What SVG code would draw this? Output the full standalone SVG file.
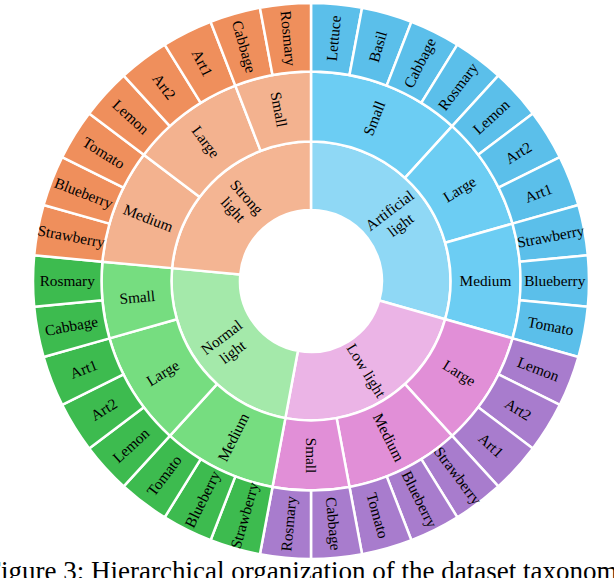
<svg xmlns="http://www.w3.org/2000/svg" width="614" height="578" viewBox="0 0 614 578">
<style>
.seg{stroke:#ffffff;stroke-width:2.5;stroke-linejoin:round}
.lbl{font-family:"Liberation Serif","Times New Roman",serif;font-size:15.3px;fill:#000000;text-anchor:middle}
.cap{font-family:"Liberation Serif","Times New Roman",serif;font-size:27px;fill:#000000}
.a1{fill:#8fd8f5}.a2{fill:#6ccdf3}.a3{fill:#5bbfea}
.l1{fill:#ebb4e6}.l2{fill:#e18fd7}.l3{fill:#a87ccd}
.n1{fill:#a4e9aa}.n2{fill:#76dd80}.n3{fill:#3dbb4f}
.s1{fill:#f4b593}.s2{fill:#f3b28f}.s3{fill:#ef8f5c}
</style>
<defs>
<path id="w1" d="M-25.650,-276.814 A278,278 0 0 1 25.650,-276.814 L19.330,-208.606 A209.5,209.5 0 0 0 -19.330,-208.606 Z"/>
<path id="w2" d="M-38.495,-205.933 A209.5,209.5 0 0 1 38.495,-205.933 L25.633,-137.125 A139.5,139.5 0 0 0 -25.633,-137.125 Z"/>
<path id="w3" d="M-57.332,-201.503 A209.5,209.5 0 0 1 57.332,-201.503 L38.176,-134.175 A139.5,139.5 0 0 0 -38.176,-134.175 Z"/>
<path id="w4" d="M-75.680,-195.353 A209.5,209.5 0 0 1 75.680,-195.353 L50.393,-130.080 A139.5,139.5 0 0 0 -50.393,-130.080 Z"/>
<path id="w8" d="M-93.981,-103.092 A139.5,139.5 0 0 1 93.981,-103.092 L47.832,-52.470 A71,71 0 0 0 -47.832,-52.470 Z"/>
<path id="w10" d="M-111.323,-84.068 A139.5,139.5 0 0 1 111.323,-84.068 L56.659,-42.787 A71,71 0 0 0 -56.659,-42.787 Z"/>
</defs>

<g id="ring-inner">
<g id="artificial-light" transform="translate(311,281) rotate(52.941)"><use href="#w10" class="seg a1"/><text class="lbl" transform="translate(0,-105.25) rotate(-90)"><tspan x="0" dy="-0.25em">Artificial</tspan><tspan x="0" dy="1.2em">light</tspan></text></g>
<g id="low-light" transform="translate(311,281) rotate(148.235)"><use href="#w8" class="seg l1"/><text class="lbl" transform="translate(0,-105.25) rotate(-90)" dy="0.35em">Low light</text></g>
<g id="normal-light" transform="translate(311,281) rotate(232.941)"><use href="#w8" class="seg n1"/><text class="lbl" transform="translate(0,-105.25) rotate(90)"><tspan x="0" dy="-0.25em">Normal</tspan><tspan x="0" dy="1.2em">light</tspan></text></g>
<g id="strong-light" transform="translate(311,281) rotate(317.647)"><use href="#w8" class="seg s1"/><text class="lbl" transform="translate(0,-105.25) rotate(90)"><tspan x="0" dy="-0.25em">Strong</tspan><tspan x="0" dy="1.2em">light</tspan></text></g>
</g>

<g id="ring-middle">
<g id="art-small" transform="translate(311,281) rotate(21.176)"><use href="#w4" class="seg a2"/><text class="lbl" transform="translate(0,-174.5) rotate(-90)" dy="0.35em">Small</text></g>
<g id="art-large" transform="translate(311,281) rotate(58.235)"><use href="#w3" class="seg a2"/><text class="lbl" transform="translate(0,-174.5) rotate(-90)" dy="0.35em">Large</text></g>
<g id="art-medium" transform="translate(311,281) rotate(90)"><use href="#w3" class="seg a2"/><text class="lbl" transform="translate(0,-174.5) rotate(-90)" dy="0.35em">Medium</text></g>
<g id="low-large" transform="translate(311,281) rotate(121.765)"><use href="#w3" class="seg l2"/><text class="lbl" transform="translate(0,-174.5) rotate(-90)" dy="0.35em">Large</text></g>
<g id="low-medium" transform="translate(311,281) rotate(153.529)"><use href="#w3" class="seg l2"/><text class="lbl" transform="translate(0,-174.5) rotate(-90)" dy="0.35em">Medium</text></g>
<g id="low-small" transform="translate(311,281) rotate(180)"><use href="#w2" class="seg l2"/><text class="lbl" transform="translate(0,-174.5) rotate(-90)" dy="0.35em">Small</text></g>
<g id="nor-medium" transform="translate(311,281) rotate(206.471)"><use href="#w3" class="seg n2"/><text class="lbl" transform="translate(0,-174.5) rotate(90)" dy="0.35em">Medium</text></g>
<g id="nor-large" transform="translate(311,281) rotate(238.235)"><use href="#w3" class="seg n2"/><text class="lbl" transform="translate(0,-174.5) rotate(90)" dy="0.35em">Large</text></g>
<g id="nor-small" transform="translate(311,281) rotate(264.706)"><use href="#w2" class="seg n2"/><text class="lbl" transform="translate(0,-174.5) rotate(90)" dy="0.35em">Small</text></g>
<g id="str-medium" transform="translate(311,281) rotate(291.176)"><use href="#w3" class="seg s2"/><text class="lbl" transform="translate(0,-174.5) rotate(90)" dy="0.35em">Medium</text></g>
<g id="str-large" transform="translate(311,281) rotate(322.941)"><use href="#w3" class="seg s2"/><text class="lbl" transform="translate(0,-174.5) rotate(90)" dy="0.35em">Large</text></g>
<g id="str-small" transform="translate(311,281) rotate(349.412)"><use href="#w2" class="seg s2"/><text class="lbl" transform="translate(0,-174.5) rotate(90)" dy="0.35em">Small</text></g>
</g>

<g id="ring-outer">
<g id="art-lettuce" transform="translate(311,281) rotate(5.294)"><use href="#w1" class="seg a3"/><text class="lbl" transform="translate(0,-243.75) rotate(-90)" dy="0.35em">Lettuce</text></g>
<g id="art-basil" transform="translate(311,281) rotate(15.882)"><use href="#w1" class="seg a3"/><text class="lbl" transform="translate(0,-243.75) rotate(-90)" dy="0.35em">Basil</text></g>
<g id="art-cabbage" transform="translate(311,281) rotate(26.471)"><use href="#w1" class="seg a3"/><text class="lbl" transform="translate(0,-243.75) rotate(-90)" dy="0.35em">Cabbage</text></g>
<g id="art-rosmary" transform="translate(311,281) rotate(37.059)"><use href="#w1" class="seg a3"/><text class="lbl" transform="translate(0,-243.75) rotate(-90)" dy="0.35em">Rosmary</text></g>
<g id="art-lemon" transform="translate(311,281) rotate(47.647)"><use href="#w1" class="seg a3"/><text class="lbl" transform="translate(0,-243.75) rotate(-90)" dy="0.35em">Lemon</text></g>
<g id="art-art2" transform="translate(311,281) rotate(58.235)"><use href="#w1" class="seg a3"/><text class="lbl" transform="translate(0,-243.75) rotate(-90)" dy="0.35em">Art2</text></g>
<g id="art-art1" transform="translate(311,281) rotate(68.824)"><use href="#w1" class="seg a3"/><text class="lbl" transform="translate(0,-243.75) rotate(-90)" dy="0.35em">Art1</text></g>
<g id="art-strawberry" transform="translate(311,281) rotate(79.412)"><use href="#w1" class="seg a3"/><text class="lbl" transform="translate(0,-243.75) rotate(-90)" dy="0.35em">Strawberry</text></g>
<g id="art-blueberry" transform="translate(311,281) rotate(90)"><use href="#w1" class="seg a3"/><text class="lbl" transform="translate(0,-243.75) rotate(-90)" dy="0.35em">Blueberry</text></g>
<g id="art-tomato" transform="translate(311,281) rotate(100.588)"><use href="#w1" class="seg a3"/><text class="lbl" transform="translate(0,-243.75) rotate(-90)" dy="0.35em">Tomato</text></g>

<g id="low-lemon" transform="translate(311,281) rotate(111.176)"><use href="#w1" class="seg l3"/><text class="lbl" transform="translate(0,-243.75) rotate(-90)" dy="0.35em">Lemon</text></g>
<g id="low-art2" transform="translate(311,281) rotate(121.765)"><use href="#w1" class="seg l3"/><text class="lbl" transform="translate(0,-243.75) rotate(-90)" dy="0.35em">Art2</text></g>
<g id="low-art1" transform="translate(311,281) rotate(132.353)"><use href="#w1" class="seg l3"/><text class="lbl" transform="translate(0,-243.75) rotate(-90)" dy="0.35em">Art1</text></g>
<g id="low-strawberry" transform="translate(311,281) rotate(142.941)"><use href="#w1" class="seg l3"/><text class="lbl" transform="translate(0,-243.75) rotate(-90)" dy="0.35em">Strawberry</text></g>
<g id="low-blueberry" transform="translate(311,281) rotate(153.529)"><use href="#w1" class="seg l3"/><text class="lbl" transform="translate(0,-243.75) rotate(-90)" dy="0.35em">Blueberry</text></g>
<g id="low-tomato" transform="translate(311,281) rotate(164.118)"><use href="#w1" class="seg l3"/><text class="lbl" transform="translate(0,-243.75) rotate(-90)" dy="0.35em">Tomato</text></g>
<g id="low-cabbage" transform="translate(311,281) rotate(174.706)"><use href="#w1" class="seg l3"/><text class="lbl" transform="translate(0,-243.75) rotate(-90)" dy="0.35em">Cabbage</text></g>
<g id="low-rosmary" transform="translate(311,281) rotate(185.294)"><use href="#w1" class="seg l3"/><text class="lbl" transform="translate(0,-243.75) rotate(90)" dy="0.35em">Rosmary</text></g>

<g id="nor-strawberry" transform="translate(311,281) rotate(195.882)"><use href="#w1" class="seg n3"/><text class="lbl" transform="translate(0,-243.75) rotate(90)" dy="0.35em">Strawberry</text></g>
<g id="nor-blueberry" transform="translate(311,281) rotate(206.471)"><use href="#w1" class="seg n3"/><text class="lbl" transform="translate(0,-243.75) rotate(90)" dy="0.35em">Blueberry</text></g>
<g id="nor-tomato" transform="translate(311,281) rotate(217.059)"><use href="#w1" class="seg n3"/><text class="lbl" transform="translate(0,-243.75) rotate(90)" dy="0.35em">Tomato</text></g>
<g id="nor-lemon" transform="translate(311,281) rotate(227.647)"><use href="#w1" class="seg n3"/><text class="lbl" transform="translate(0,-243.75) rotate(90)" dy="0.35em">Lemon</text></g>
<g id="nor-art2" transform="translate(311,281) rotate(238.235)"><use href="#w1" class="seg n3"/><text class="lbl" transform="translate(0,-243.75) rotate(90)" dy="0.35em">Art2</text></g>
<g id="nor-art1" transform="translate(311,281) rotate(248.824)"><use href="#w1" class="seg n3"/><text class="lbl" transform="translate(0,-243.75) rotate(90)" dy="0.35em">Art1</text></g>
<g id="nor-cabbage" transform="translate(311,281) rotate(259.412)"><use href="#w1" class="seg n3"/><text class="lbl" transform="translate(0,-243.75) rotate(90)" dy="0.35em">Cabbage</text></g>
<g id="nor-rosmary" transform="translate(311,281) rotate(270)"><use href="#w1" class="seg n3"/><text class="lbl" transform="translate(0,-243.75) rotate(90)" dy="0.35em">Rosmary</text></g>

<g id="str-strawberry" transform="translate(311,281) rotate(280.588)"><use href="#w1" class="seg s3"/><text class="lbl" transform="translate(0,-243.75) rotate(90)" dy="0.35em">Strawberry</text></g>
<g id="str-blueberry" transform="translate(311,281) rotate(291.176)"><use href="#w1" class="seg s3"/><text class="lbl" transform="translate(0,-243.75) rotate(90)" dy="0.35em">Blueberry</text></g>
<g id="str-tomato" transform="translate(311,281) rotate(301.765)"><use href="#w1" class="seg s3"/><text class="lbl" transform="translate(0,-243.75) rotate(90)" dy="0.35em">Tomato</text></g>
<g id="str-lemon" transform="translate(311,281) rotate(312.353)"><use href="#w1" class="seg s3"/><text class="lbl" transform="translate(0,-243.75) rotate(90)" dy="0.35em">Lemon</text></g>
<g id="str-art2" transform="translate(311,281) rotate(322.941)"><use href="#w1" class="seg s3"/><text class="lbl" transform="translate(0,-243.75) rotate(90)" dy="0.35em">Art2</text></g>
<g id="str-art1" transform="translate(311,281) rotate(333.529)"><use href="#w1" class="seg s3"/><text class="lbl" transform="translate(0,-243.75) rotate(90)" dy="0.35em">Art1</text></g>
<g id="str-cabbage" transform="translate(311,281) rotate(344.118)"><use href="#w1" class="seg s3"/><text class="lbl" transform="translate(0,-243.75) rotate(90)" dy="0.35em">Cabbage</text></g>
<g id="str-rosmary" transform="translate(311,281) rotate(354.706)"><use href="#w1" class="seg s3"/><text class="lbl" transform="translate(0,-243.75) rotate(90)" dy="0.35em">Rosmary</text></g>
</g>

<text id="caption" class="cap" x="-14" y="580">Figure 3: Hierarchical organization of the dataset taxonomy.</text>
</svg>
